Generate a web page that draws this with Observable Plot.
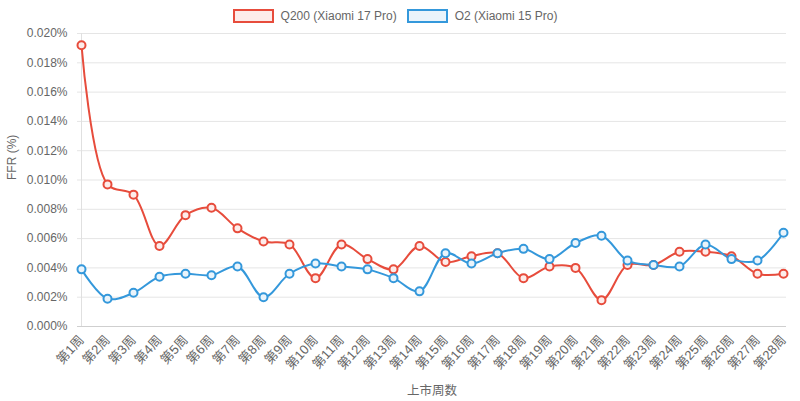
<!DOCTYPE html>
<html><head><meta charset="utf-8">
<script src="https://cdn.jsdelivr.net/npm/d3@7"></script>
<script src="https://cdn.jsdelivr.net/npm/@observablehq/plot@0.6"></script>
<style>
body{margin:0;background:#fff;font-family:"Liberation Sans",Arial,"Noto Sans CJK SC",sans-serif;}
#legend{height:24px;display:flex;justify-content:center;align-items:center;gap:0;font-size:12px;color:#666;padding-top:8px;box-sizing:border-box;}
.item{display:flex;align-items:center;margin:0 10px 0 0;}
.sw{width:37px;height:10px;border:2px solid;margin-right:7px;box-sizing:content-box;}
</style></head>
<body>
<div id="legend"></div>
<div id="chart"></div>
<script>
const weeks = ["第1周","第2周","第3周","第4周","第5周","第6周","第7周","第8周","第9周","第10周","第11周","第12周","第13周","第14周","第15周","第16周","第17周","第18周","第19周","第20周","第21周","第22周","第23周","第24周","第25周","第26周","第27周","第28周"];
const q200 = [0.0192,0.0097,0.0090,0.0055,0.0076,0.0081,0.0067,0.0058,0.0056,0.0033,0.0056,0.0046,0.0039,0.0055,0.0044,0.0048,0.0050,0.0033,0.0041,0.0040,0.0018,0.0042,0.0042,0.0051,0.0051,0.0048,0.0036,0.0036];
const o2 = [0.0039,0.0019,0.0023,0.0034,0.0036,0.0035,0.0041,0.0020,0.0036,0.0043,0.0041,0.0039,0.0033,0.0024,0.0050,0.0043,0.0050,0.0053,0.0046,0.0057,0.0062,0.0045,0.0042,0.0041,0.0056,0.0046,0.0045,0.0064];
const seriesNames = ["Q200 (Xiaomi 17 Pro)","O2 (Xiaomi 15 Pro)"];
const colors = ["#e74c3c","#3498db"];
const fills = ["#fdecea","#eaf4fb"];
const yTicks = [0,0.002,0.004,0.006,0.008,0.010,0.012,0.014,0.016,0.018,0.020];

const data = [];
weeks.forEach((w,i)=>{
  data.push({week:w, value:q200[i], series:seriesNames[0]});
  data.push({week:w, value:o2[i], series:seriesNames[1]});
});

const lg = document.getElementById("legend");
seriesNames.forEach((s,i)=>{
  const it = document.createElement("div"); it.className="item";
  it.innerHTML = `<span class="sw" style="border-color:${colors[i]};background:${fills[i]}"></span><span>${s}</span>`;
  lg.appendChild(it);
});

const chart = Plot.plot({
  width: 800, height: 377,
  marginLeft: 77, marginRight: 14, marginTop: 9, marginBottom: 75,
  style: {fontFamily: '"Liberation Sans",Arial,"Noto Sans CJK SC",sans-serif', fontSize: "12px", color: "#666", background: "#fff", overflow: "visible"},
  x: {type: "point", domain: weeks, padding: 0},
  y: {domain: [0, 0.020]},
  color: {domain: seriesNames, range: colors},
  marks: [
    Plot.gridY(yTicks, {stroke: "#e5e5e5", strokeOpacity: 1}),
    Plot.ruleX([weeks[0]], {stroke: "#e0e0e0"}),
    Plot.ruleY([0], {stroke: "#cfcfcf"}),
    Plot.axisY(yTicks, {tickSize: 0, tickPadding: 10, tickFormat: d => d.toFixed(3) + "%", label: null, fill: "#666", fontSize: 12}),
    Plot.axisX({tickSize: 0, tickPadding: 11, tickRotate: -48, label: null, fill: "#666", fontSize: 13}),
    Plot.text(["FFR (%)"], {frameAnchor: "left", dx: -65, rotate: -90, fill: "#666", fontSize: 12}),
    Plot.text(["上市周数"], {frameAnchor: "bottom", dy: 68, fill: "#666", fontSize: 12.5}),
    Plot.line(data, {x: "week", y: "value", stroke: "series", z: "series", strokeWidth: 2, curve: "catmull-rom"}),
    Plot.dot(data, {x: "week", y: "value", stroke: "series", fill: d => d.series === seriesNames[0] ? fills[0] : fills[1], r: 4, strokeWidth: 2})
  ]
});
document.getElementById("chart").appendChild(chart);
</script>
</body></html>
